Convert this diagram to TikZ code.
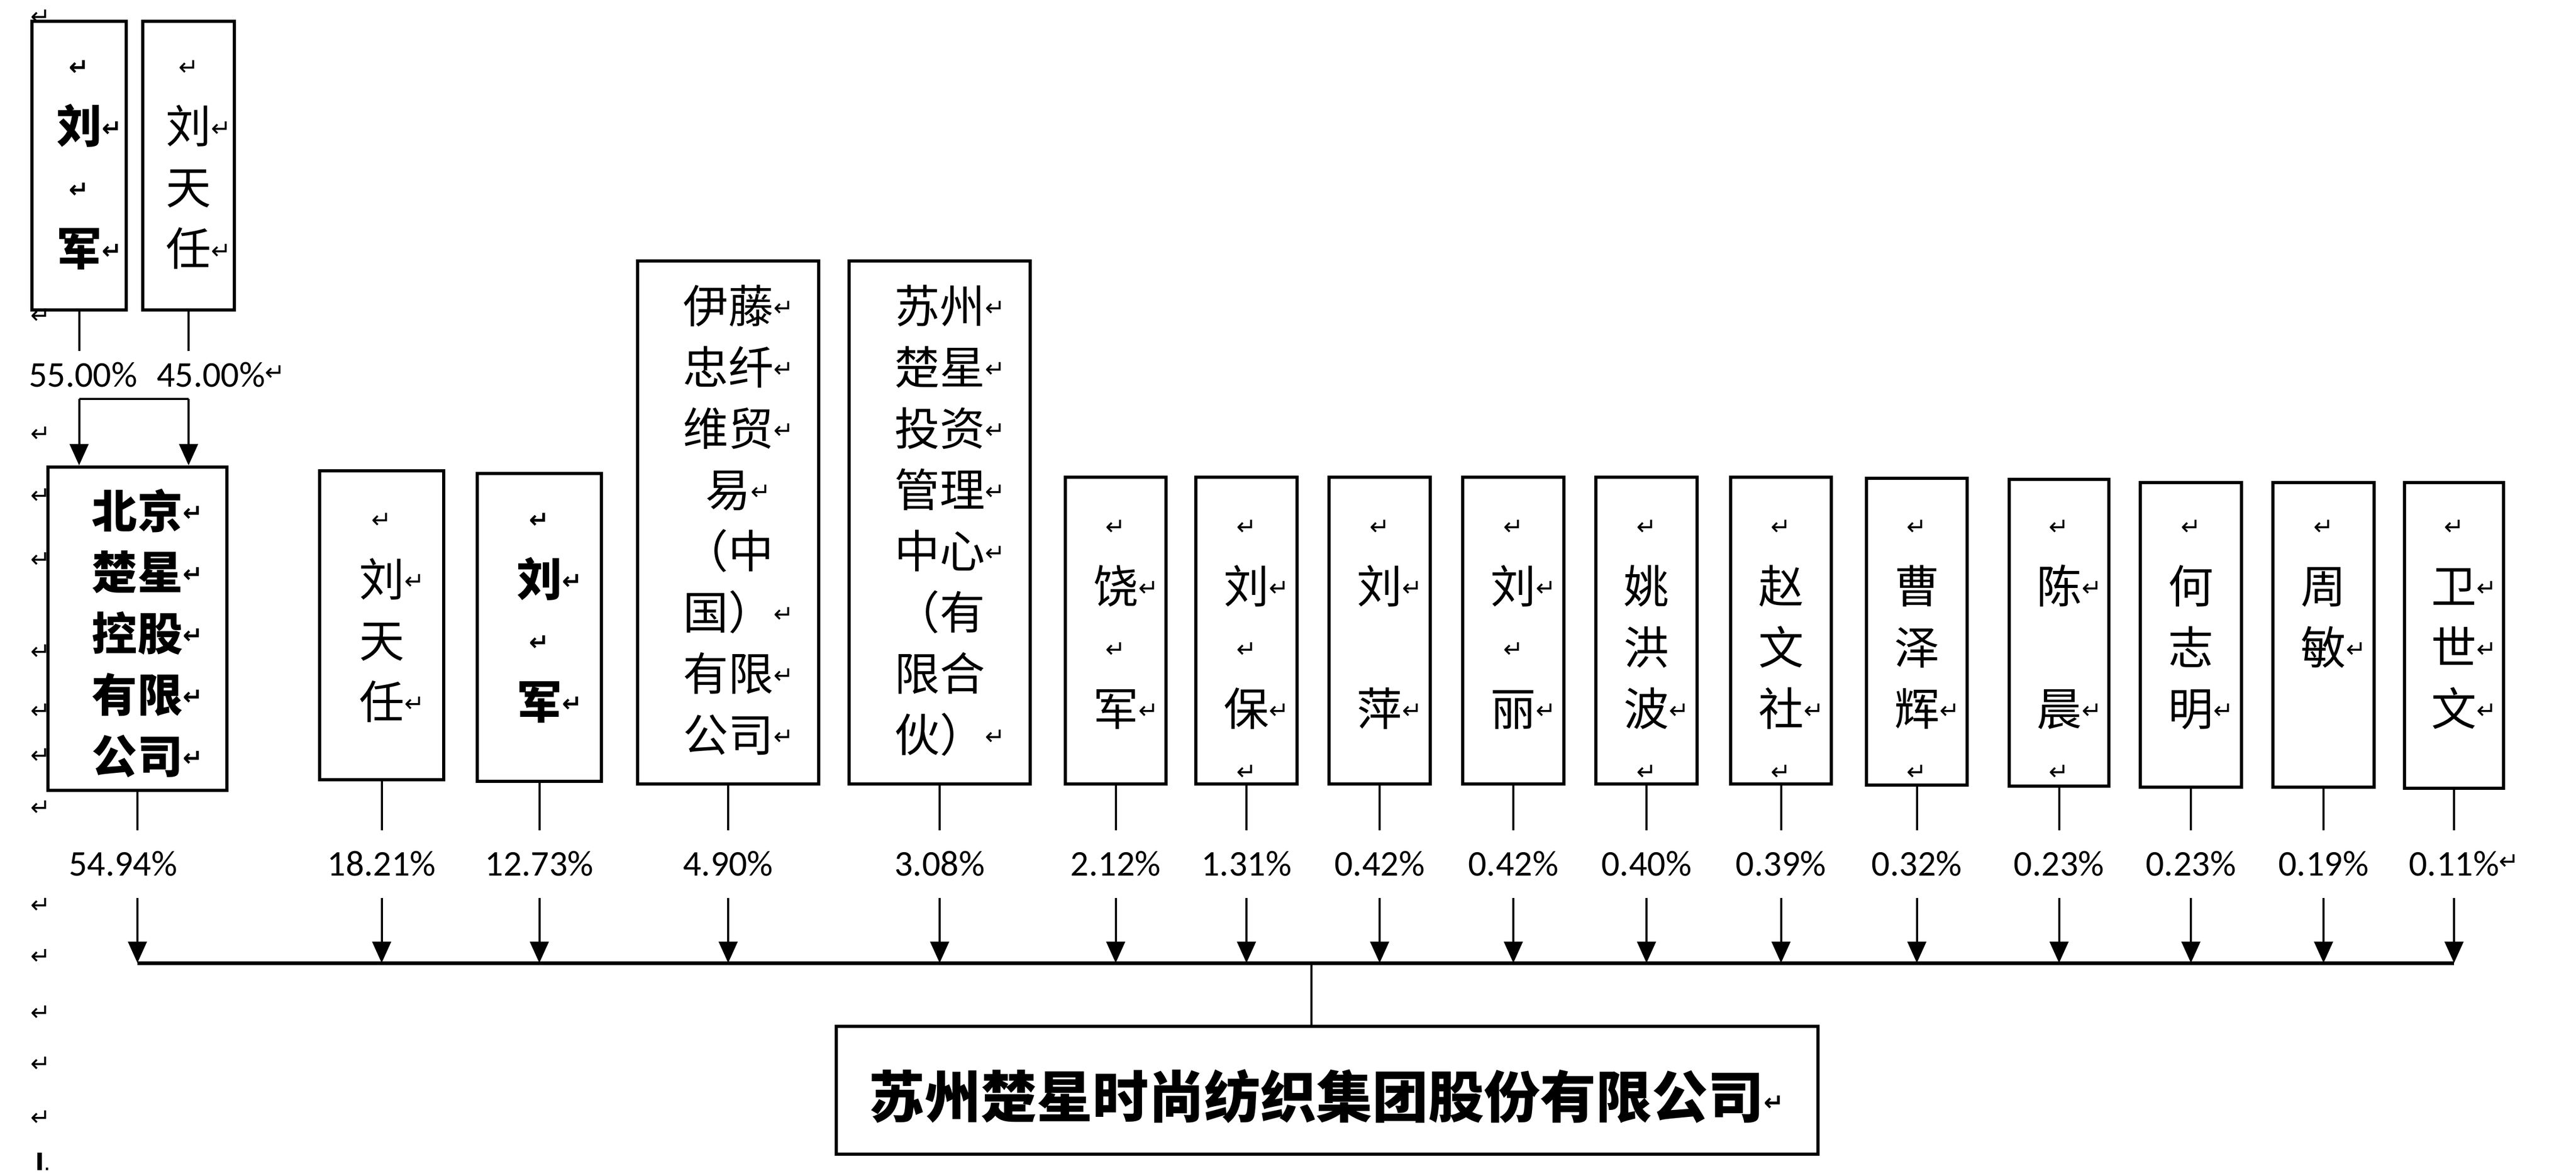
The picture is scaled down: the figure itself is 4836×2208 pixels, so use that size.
\documentclass[tikz,border=0pt]{standalone}
\usepackage{fontspec}
\usetikzlibrary{arrows.meta}
\newfontfamily\cjk{Noto Sans CJK SC}
\newfontfamily\symf{DejaVu Sans}
\newfontfamily\pctf{Carlito}
\newcommand\pmg{{\symf\fontsize{9}{9}\selectfont ↵}}
\newcommand\pmk{\raisebox{2.5pt}{\pmg}}
\newcommand\pmr{\rlap{\pmk}}
\newcommand\fstrut{\rule{0pt}{17pt}}
\tikzset{
  box/.style={draw=black, line width=1.3pt, inner sep=0pt, fill=white},
  txt/.style={font=\cjk\fontsize{17}{23}\selectfont, align=center, anchor=north, inner sep=0pt},
  txtb/.style={font=\cjk\bfseries\fontsize{17}{23}\selectfont, align=center, anchor=north, inner sep=0pt},
  pct/.style={font=\pctf\fontsize{13.6}{16}\selectfont, inner sep=0pt, minimum height=25pt},
  pcttop/.style={font=\pctf\fontsize{13.6}{16}\selectfont, inner sep=0pt, minimum height=17.6pt},
  ln/.style={draw=black, line width=0.8pt},
  arr/.style={ln, -{Triangle[length=8pt,width=7pt]}},
  busln/.style={draw=black, line width=1.4pt},
  pmark/.style={inner sep=0pt}
}
\newcommand\BX[5]{\node[box, minimum width={(#4-#2)*0.2pt}, minimum height={(#5-#3)*0.2pt}] (#1) at ({(#2+#4)/2},{(#3+#5)/2}) {};}
\newcommand\TX[4]{\node[#2] (#1t) at (#1.north |- 0,#3) {\fstrut #4};}
\newcommand\PC[3]{\node[pct] (#1p) at (#1.south |- 0,1622) {};
  \node[pct] (#1q) at ([xshift=#3*0.2pt]#1p.center) {#2};
  \draw[ln] (#1.south) -- (#1p.north);
  \draw[arr] (#1p.south) -- (#1p.south |- bus);}
\begin{document}
\begin{tikzpicture}[x=0.2pt, y=-0.2pt]
\useasboundingbox (0,0) rectangle (4836,2208);
\fill[white] (0,0) rectangle (4836,2208);
\coordinate (bus) at (0,1808);
% top owners
\BX{tj}{60}{40}{237}{582}
\TX{tj}{txtb}{68}{\pmk \\ 刘\pmr \\ \pmk \\ 军\pmr}
\BX{tt}{268}{40}{440}{582}
\TX{tt}{txt}{68}{\pmk \\ 刘\pmr \\ 天 \\ 任\pmr}
% Beijing holding
\BX{bj}{90}{877}{426}{1484}
\TX{bj}{txtb}{905}{北京\pmr \\ 楚星\pmr \\ 控股\pmr \\ 有限\pmr \\ 公司\pmr}
% shareholders
\BX{s2}{600}{884}{833}{1464}
\TX{s2}{txt}{918}{\pmk \\ 刘\pmr \\ 天 \\ 任\pmr}
\BX{s3}{896}{889}{1129}{1467}
\TX{s3}{txtb}{918}{\pmk \\ 刘\pmr \\ \pmk \\ 军\pmr}
\BX{s4}{1197}{490}{1537}{1472}
\TX{s4}{txt}{520}{伊藤\pmr \\ 忠纤\pmr \\ 维贸\pmr \\ 易\pmr \\ （中 \\ 国）\pmr \\ 有限\pmr \\ 公司\pmr}
\BX{s5}{1594}{490}{1934}{1472}
\TX{s5}{txt}{520}{苏州\pmr \\ 楚星\pmr \\ 投资\pmr \\ 管理\pmr \\ 中心\pmr \\ （有 \\ 限合 \\ 伙）\pmr}
\BX{s6}{2000}{896}{2189}{1472}
\TX{s6}{txt}{931}{\pmk \\ 饶\pmr \\ \pmk \\ 军\pmr}
\BX{s7}{2245}{896}{2435}{1472}
\TX{s7}{txt}{931}{\pmk \\ 刘\pmr \\ \pmk \\ 保\pmr \\ \pmk}
\BX{s8}{2495}{896}{2685}{1472}
\TX{s8}{txt}{931}{\pmk \\ 刘\pmr \\ \mbox{} \\ 萍\pmr}
\BX{s9}{2746}{896}{2936}{1472}
\TX{s9}{txt}{931}{\pmk \\ 刘\pmr \\ \pmk \\ 丽\pmr}
\BX{s10}{2996}{896}{3186}{1472}
\TX{s10}{txt}{931}{\pmk \\ 姚 \\ 洪 \\ 波\pmr \\ \pmk}
\BX{s11}{3249}{896}{3438}{1472}
\TX{s11}{txt}{931}{\pmk \\ 赵 \\ 文 \\ 社\pmr \\ \pmk}
\BX{s12}{3504}{898}{3693}{1474}
\TX{s12}{txt}{931}{\pmk \\ 曹 \\ 泽 \\ 辉\pmr \\ \pmk}
\BX{s13}{3772}{900}{3959}{1476}
\TX{s13}{txt}{931}{\pmk \\ 陈\pmr \\ \mbox{} \\ 晨\pmr \\ \pmk}
\BX{s14}{4018}{906}{4208}{1478}
\TX{s14}{txt}{931}{\pmk \\ 何 \\ 志 \\ 明\pmr}
\BX{s15}{4267}{906}{4457}{1478}
\TX{s15}{txt}{931}{\pmk \\ 周 \\ 敏\pmr}
\BX{s16}{4514}{906}{4700}{1480}
\TX{s16}{txt}{931}{\pmk \\ 卫\pmr \\ 世\pmr \\ 文\pmr}
% final company
\node[box, minimum width=368.6pt, minimum height=48pt] (fin) at (2491.5,2047) {};
\node[font=\cjk\bfseries\fontsize{21}{25}\selectfont, inner sep=0pt] (fint) at (2471,2058) {苏州楚星时尚纺织集团股份有限公司\pmr};
% top connectors
\node[pcttop] (l55) at (156,704) {55.00\%};
\node[pcttop] (l45) at (396,704) {45.00\%\pmr};
\draw[ln] (tj.south) -- (tj.south |- l55.north);
\draw[ln] (tt.south) -- (tt.south |- l45.north);
\coordinate (bl) at (tj.south |- l55.south);
\coordinate (br) at (tt.south |- l45.south);
\draw[ln] (bl) -- (br);
\draw[arr] (bl) -- (bl |- bj.north);
\draw[arr] (br) -- (br |- bj.north);
% percentages and arrows to the bus
\PC{bj}{54.94\%}{-27}
\PC{s2}{18.21\%}{0}
\PC{s3}{12.73\%}{0}
\PC{s4}{4.90\%}{0}
\PC{s5}{3.08\%}{0}
\PC{s6}{2.12\%}{0}
\PC{s7}{1.31\%}{0}
\PC{s8}{0.42\%}{0}
\PC{s9}{0.42\%}{0}
\PC{s10}{0.40\%}{0}
\PC{s11}{0.39\%}{0}
\PC{s12}{0.32\%}{0}
\PC{s13}{0.23\%}{0}
\PC{s14}{0.23\%}{0}
\PC{s15}{0.19\%}{0}
\PC{s16}{0.11\%\pmr}{0}
\draw[busln] (bjp.south |- bus) -- (s16p.south |- bus);
\coordinate (jn) at (2462,1808);
\draw[ln] (jn) -- (jn |- fin.north);
% paragraph marks in the left margin
\foreach \yy [count=\k] in {32,593,815,931,1051,1224,1335,1419,1517,1700,1796,1902,1998,2099}
  \node[pmark] (m\k) at (76,\yy) {\pmg};
\node[pmark, font=\symf\bfseries\fontsize{9}{9}\selectfont] (cur) at (80,2181) {I\fontsize{5}{5}\selectfont.};
\end{tikzpicture}
\end{document}
